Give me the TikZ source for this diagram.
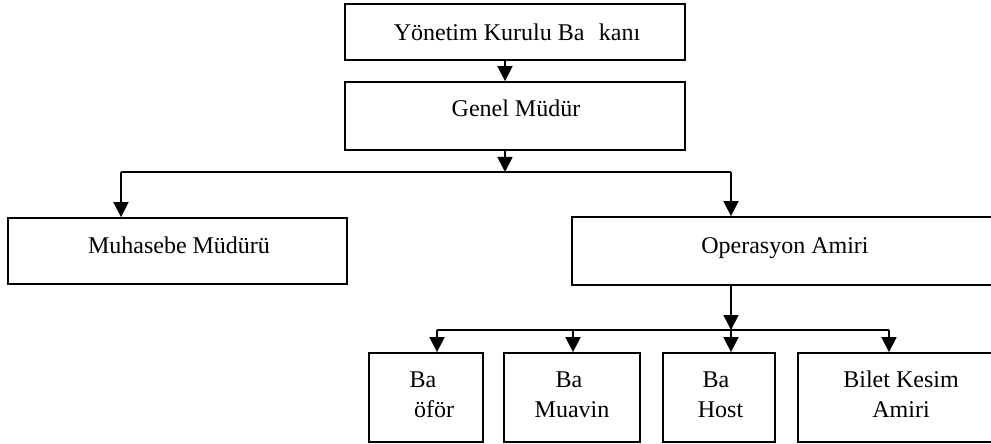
\documentclass[tikz,border=0pt]{standalone}
\usepackage{fontspec}
\setmainfont{Liberation Serif}
\usetikzlibrary{arrows.meta}
\begin{document}
\begin{tikzpicture}[x=0.5pt,y=-0.5pt,
  box/.style={draw,line width=0.9pt,rectangle,inner sep=0pt},
  txt/.style={anchor=base,inner sep=0pt,font=\fontsize{12pt}{14pt}\selectfont},
  link/.style={line width=0.85pt},
  arr/.style={link,-{Triangle[length=7.5pt,width=7.5pt]}}]
\useasboundingbox (0,0) rectangle (991,444);
\clip (0,0) rectangle (991,444);

% boxes
\node[box,minimum width=170pt,minimum height=28pt]   (bsk) at (515,32) {};
\node[box,minimum width=170pt,minimum height=34pt]   (gm)  at (515,116) {};
\node[box,minimum width=169.5pt,minimum height=33pt] (mm)  at (177.5,251) {};
\node[box,minimum width=213pt,minimum height=34pt]   (oa)  at (785,251) {};
\node[box,minimum width=57pt,minimum height=44.5pt]  (bs)  at (426,397.5) {};
\node[box,minimum width=68pt,minimum height=44.5pt]  (bm)  at (572,397.5) {};
\node[box,minimum width=56pt,minimum height=44.5pt]  (bh)  at (719,397.5) {};
\node[box,minimum width=103pt,minimum height=44.5pt] (bk)  at (901,397.5) {};

% labels
\node[txt] (tbsk) at (517,41)  {Yönetim Kurulu Ba\hspace{0.6em}kanı};
\node[txt] (tgm)  at (516,117) {Genel Müdür};
\node[txt] (tmm)  at (179,253) {Muhasebe Müdürü};
\node[txt] (toa)  at (785,253) {Operasyon Amiri};
\node[txt] (tbs1) at (423,387) {Ba};
\node[txt] (tbs2) at (434,417) {öför};
\node[txt] (tbm1) at (569,387) {Ba};
\node[txt] (tbm2) at (572,417) {Muavin};
\node[txt] (tbh1) at (716,387) {Ba};
\node[txt] (tbh2) at (720.5,417) {Host};
\node[txt] (tbk1) at (901,387) {Bilet Kesim};
\node[txt] (tbk2) at (901,417) {Amiri};

% junction points
\coordinate (j1) at (505,172);
\coordinate (jl) at (121,172);
\coordinate (jr) at (731,172);
\coordinate (j2) at (731,330);
\coordinate (k1) at (437,330);
\coordinate (k2) at (573,330);
\coordinate (k4) at (889,330);

% connectors
\draw[arr] (bsk.south -| j1) -- (gm.north -| j1);
\draw[arr] (gm.south -| j1) -- (j1);
\draw[link] (jl) -- (jr);
\draw[arr] (jl) -- (mm.north -| jl);
\draw[arr] (jr) -- (oa.north -| jr);
\draw[arr] (oa.south -| j2) -- (j2);
\draw[link] (k1) -- (k4);
\draw[arr] (k1) -- (bs.north -| k1);
\draw[arr] (k2) -- (bm.north -| k2);
\draw[arr] (j2) -- (bh.north -| j2);
\draw[arr] (k4) -- (bk.north -| k4);
\end{tikzpicture}
\end{document}
